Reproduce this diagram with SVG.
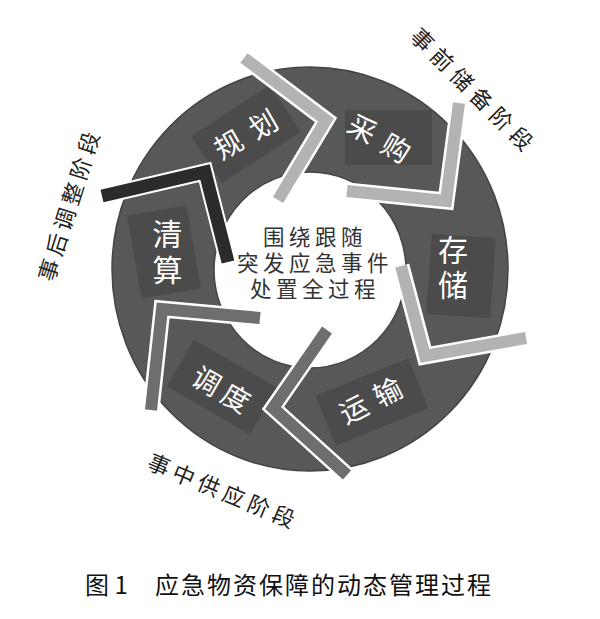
<svg xmlns="http://www.w3.org/2000/svg" width="600" height="619" viewBox="0 0 600 619">
<style>
.ring{fill:#585858;stroke:#444;stroke-width:1.5;fill-rule:evenodd}
.box{fill:#4b4b4b}
.stage{font-family:"Noto Sans CJK SC","Noto Sans",sans-serif;font-size:28px;fill:#fff;text-anchor:middle;dominant-baseline:central}
.vert{font-family:"Noto Sans CJK SC","Noto Sans",sans-serif;font-size:30px;fill:#fff;text-anchor:middle;writing-mode:vertical-rl}
.center{font-family:"Noto Sans CJK SC","Noto Sans",sans-serif;font-size:21.5px;fill:#333;text-anchor:middle;dominant-baseline:central;letter-spacing:4.5px}
.phase{font-family:"Noto Sans CJK SC","Noto Sans",sans-serif;font-size:22px;fill:#222;text-anchor:middle;dominant-baseline:central}
.cap{font-family:"Noto Sans CJK SC","Noto Sans",sans-serif;font-size:24px;fill:#111}
.wl{fill:none;stroke:#fff;stroke-width:17;stroke-linejoin:miter;stroke-miterlimit:10}
.lt{fill:none;stroke:#b3b3b3;stroke-width:12;stroke-linejoin:miter;stroke-miterlimit:10}
.md{fill:none;stroke:#6e6e6e;stroke-width:12;stroke-linejoin:miter;stroke-miterlimit:10}
.dk{fill:none;stroke:#2b2b2b;stroke-width:13;stroke-linejoin:miter;stroke-miterlimit:10}
</style>
<g id="ring">
<path class="ring" d="M112 269A198 202 0 1 0 508 269A198 202 0 1 0 112 269ZM214 270A96 98 0 1 0 406 270A96 98 0 1 0 214 270Z"/>
</g>
<g id="boxes">
<rect class="box" x="-47" y="-28" width="94" height="56" transform="translate(246,134) rotate(-33)"/>
<rect class="box" x="345" y="110" width="87" height="55"/>
<rect class="box" x="-32" y="-40" width="64" height="80" transform="translate(461,276) rotate(4)"/>
<rect class="box" x="-50" y="-27" width="100" height="54" transform="translate(372,402) rotate(-22)"/>
<rect class="box" x="-48" y="-27" width="96" height="54" transform="translate(222,387) rotate(30)"/>
<rect class="box" x="-30" y="-42" width="60" height="84" transform="translate(164,252) rotate(-10)"/>
</g>
<g id="connectors">
<polyline class="wl" points="244,58 326,120 278,200"/>
<polyline class="lt" points="244,58 326,120 278,200"/>
<polyline class="wl" points="459,103 446,201 347,191"/>
<polyline class="lt" points="459,103 446,201 347,191"/>
<polyline class="wl" points="401,266 425,356 526,338"/>
<polyline class="lt" points="401,266 425,356 526,338"/>
<polyline class="wl" points="327,330 273,408 347,475"/>
<polyline class="md" points="327,330 273,408 347,475"/>
<polyline class="wl" points="151,410 162,309 260,318"/>
<polyline class="md" points="151,410 162,309 260,318"/>
<polyline class="wl" points="102,196 205,172 228,262"/>
<polyline class="dk" points="102,196 205,172 228,262"/>
</g>
<g id="node-guihua"><text class="stage" x="6" y="0" letter-spacing="12" transform="translate(245,133) rotate(-30)">规划</text></g>
<g id="node-caigou"><text class="stage" x="5.5" y="0" letter-spacing="11" transform="translate(380,137) rotate(30)">采购</text></g>
<g id="node-cunchu"><text class="vert" x="453" y="270" letter-spacing="5">存储</text></g>
<g id="node-yunshu"><text class="stage" x="5" y="0" letter-spacing="10" transform="translate(370,399) rotate(-27)">运输</text></g>
<g id="node-diaodu"><text class="stage" x="3" y="0" letter-spacing="6" transform="translate(222,388) rotate(30)">调度</text></g>
<g id="node-qingsuan"><text class="vert" x="167.5" y="255" letter-spacing="6">清算</text></g>
<g id="center">
<text class="center" x="315" y="235">围绕跟随</text>
<text class="center" x="315" y="261">突发应急事件</text>
<text class="center" x="315" y="287">处置全过程</text>
</g>
<g id="phases">
<text class="phase" x="3" y="0" letter-spacing="6" transform="translate(473,88) rotate(45)">事前储备阶段</text>
<text class="phase" x="2.3" y="0" letter-spacing="4.6" transform="translate(67,206) rotate(-72.5)">事后调整阶段</text>
<text class="phase" x="2.5" y="0" letter-spacing="5" transform="translate(222,489) rotate(22.6)">事中供应阶段</text>
</g>
<g id="caption">
<text class="cap" x="85" y="594">图 1</text>
<text class="cap" x="155" y="594" letter-spacing="2">应急物资保障的动态管理过程</text>
</g>
</svg>
